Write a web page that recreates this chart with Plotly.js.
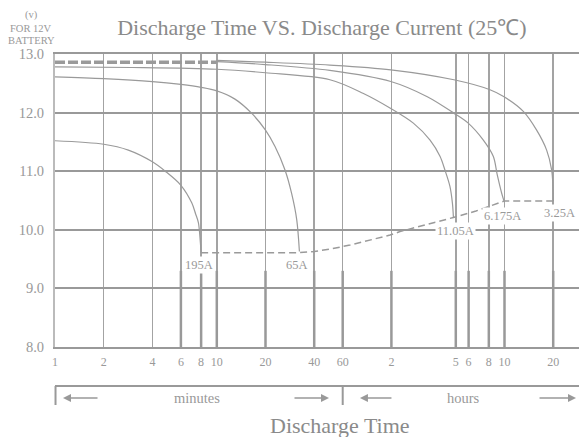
<!DOCTYPE html>
<html><head><meta charset="utf-8">
<script src="https://cdn.plot.ly/plotly-3.0.1.min.js"></script>
<style>html,body{margin:0;padding:0;background:#fff}#chart{width:579px;height:437px}</style>
</head><body><div id="chart"></div>
<script>
// Axis ticks
const tickVals = [1,2,4,6,8,10,20,40,60,120,300,360,480,600,1200];
const tickText = ['1','2','4','6','8','10','20','40','60','2','5','6','8','10','20'];
const yTicks = [8,9,10,11,12,13];

// Discharge curves: time in minutes, voltage in V
const c195_x = [1,2,2.84,4,4.8,6,7,7.4,7.7,7.88,8];
const c195_y = [11.52,11.46,11.36,11.16,11.0,10.76,10.46,10.27,10.12,9.85,9.61];

const c65_x = [1,2,4,6,8,10,12.95,16.4,20,22.9,26.4,29.0,31.2,32.4];
const c65_y = [12.61,12.58,12.53,12.48,12.43,12.37,12.23,11.99,11.70,11.42,11.02,10.62,10.17,9.63];

const c1105_x = [1,3,10,20,50,80,119,164,208,240,257,276,286,290];
const c1105_y = [12.78,12.77,12.74,12.68,12.56,12.33,12.07,11.82,11.53,11.25,11.02,10.74,10.45,10.21];

const c6175_x = [10,20,50,119,200,292,358,444,512,540,577,596];
const c6175_y = [12.87,12.82,12.72,12.53,12.27,11.99,11.82,11.53,11.25,10.95,10.62,10.49];

const c325_x = [10,20,50,119,292,488,596,784,948,1093,1174,1195,1202];
const c325_y = [12.89,12.86,12.81,12.73,12.56,12.39,12.27,12.02,11.70,11.36,11.02,10.75,10.49];

// End-voltage dashed line
const end_x = [8,32.4,40,50,66.6,90,117.7,135.6,180,239.5,290,400,596,1202];
const end_y = [9.61,9.61,9.63,9.67,9.74,9.83,9.91,9.97,10.06,10.14,10.21,10.32,10.49,10.49];

// Initial dashed line
const top_x = [1,10];
const top_y = [12.86,12.86];

// Curve labels
const curveLabels = ['195A','65A','11.05A','6.175A','3.25A'];
const labelX = [7.76,31.3,300.6,587,1321];
const labelY = [9.40,9.40,9.98,10.24,10.29];

const grey = '#9a9a9a';
const curveStyle = {color:grey, width:1.2, shape:'spline', smoothing:0.9};

// thick lower segments of vertical grid lines
const thickVals = [6,8,10,20,40,60,120,300,360,480,600,1200];
const thX = [], thY = [];
thickVals.forEach(v => { thX.push(v, v, null); thY.push(8, 9.3, null); });

const traces = [
  {x:thX, y:thY, mode:'lines', line:{color:'#999', width:2.5}, hoverinfo:'skip'},
  {x:c195_x, y:c195_y, mode:'lines', line:curveStyle},
  {x:c65_x, y:c65_y, mode:'lines', line:curveStyle},
  {x:c1105_x, y:c1105_y, mode:'lines', line:curveStyle},
  {x:c6175_x, y:c6175_y, mode:'lines', line:curveStyle},
  {x:c325_x, y:c325_y, mode:'lines', line:curveStyle},
  {x:end_x, y:end_y, mode:'lines', line:{color:grey, width:1.5, dash:'7px,4px'}},
  {x:top_x, y:top_y, mode:'lines', line:{color:grey, width:3.5, dash:'10px,3px'}}
];

const xmaxLog = 3.2386;
const px = v => Math.log10(v) / xmaxLog;

const annotations = [];
curveLabels.forEach((t,i) => annotations.push({
  x: Math.log10(labelX[i]), y: labelY[i], xref:'x', yref:'y', text:t, showarrow:false,
  xanchor:'center', yanchor:'middle',
  font:{size:12.5, color:'#999'}, bgcolor:'#fff', borderpad:1
}));
const textGrey = '#8a8a8a';
const txt = (x, y, t, size, color) => ({x:x, y:y, xref:'paper', yref:'paper', text:t, showarrow:false,
  xanchor:'center', yanchor:'middle', font:{size:size, color:color}});
annotations.push(
  txt(-0.0458, 1.133, '(v)', 10.5, '#999'),
  txt(-0.0458, 1.0887, 'FOR 12V', 10.5, '#999'),
  txt(-0.0458, 1.0461, 'BATTERY', 10.5, '#999'),
  txt(0.271, -0.174, 'minutes', 14.5, '#999'),
  txt(0.7805, -0.174, 'hours', 14.5, '#999'),
  txt(0.544, -0.2696, 'Discharge Time', 22, textGrey)
);
const arrowDefs = [[0.01527,36],[0.5229,-36],[0.582,33],[0.9943,-38]];
arrowDefs.forEach(a => annotations.push({
  x:a[0], y:-0.174, xref:'paper', yref:'paper', ax:a[1], ay:0, text:'', showarrow:true,
  arrowhead:2, arrowsize:1, arrowwidth:1.6, arrowcolor:'#999'
}));

const shapes = [
  {type:'line', xref:'paper', yref:'paper', x0:0, x1:1, y0:-0.1331, y1:-0.1331, line:{color:'#999', width:2}},
  {type:'line', xref:'paper', yref:'paper', x0:0.001, x1:0.001, y0:-0.1331, y1:-0.198, line:{color:'#999', width:2}},
  {type:'line', xref:'paper', yref:'paper', x0:px(60), x1:px(60), y0:-0.1331, y1:-0.198, line:{color:'#999', width:2}}
];

const layout = {
  width:579, height:437,
  margin:{l:55, r:0, t:54, b:90, pad:0},
  paper_bgcolor:'#fff', plot_bgcolor:'#fff',
  showlegend:false,
  font:{family:'"Liberation Serif", "Times New Roman", serif', color:'#999'},
  title:{text:'Discharge Time VS. Discharge Current (25℃)', font:{size:22, color:textGrey},
    x:0.556, xanchor:'center', xref:'container', y:0.938, yanchor:'middle', yref:'container'},
  xaxis:{type:'log', range:[0, xmaxLog], tickvals:tickVals, ticktext:tickText,
    showgrid:true, gridcolor:'#a3a3a3', gridwidth:1.5, zeroline:false,
    showline:true, linecolor:'#999', linewidth:2, mirror:true,
    ticks:'', tickfont:{size:12, color:'#999'}, ticklabelstandoff:3},
  yaxis:{range:[8,13], tickvals:yTicks, tickformat:'.1f',
    showgrid:true, gridcolor:'#999', gridwidth:2, zeroline:false,
    showline:true, linecolor:'#bbb', linewidth:2,
    ticks:'', tickfont:{size:14.5, color:'#999'}, ticklabelstandoff:6},
  annotations:annotations,
  shapes:shapes
};

Plotly.newPlot('chart', traces, layout, {staticPlot:true, displayModeBar:false});
</script>
</body></html>
